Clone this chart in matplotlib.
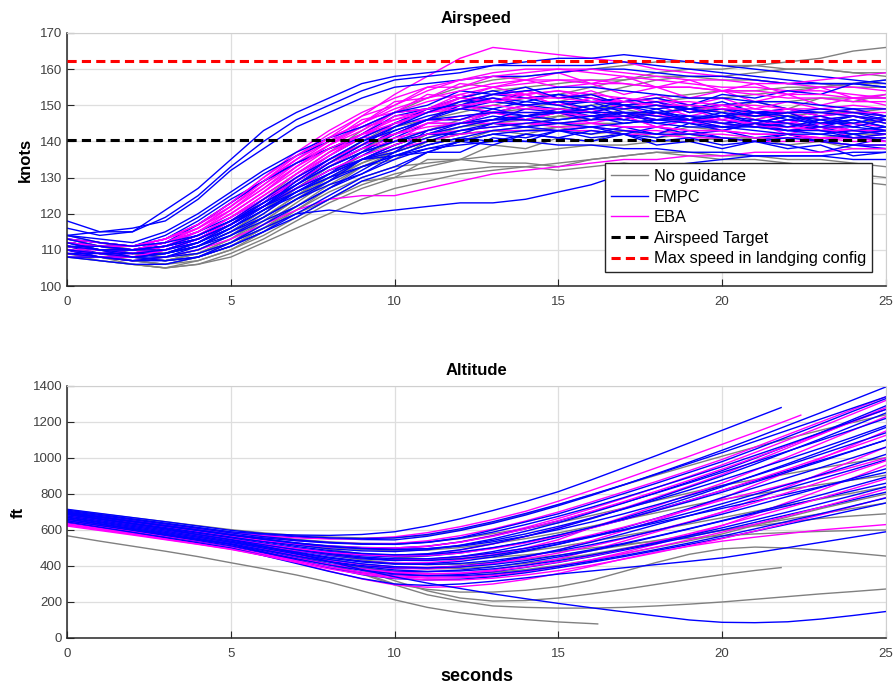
"""
Monte Carlo approach runs: airspeed and altitude vs time,
no guidance vs FMPC vs EBA guidance.
"""

import matplotlib
matplotlib.use("Agg")
import matplotlib.pyplot as plt
import numpy as np

# ── Style (Octave-like) ──────────────────────────────────────────────────────

GREY_COL = "#808080"
FMPC_COL = "#0000ff"
EBA_COL = "#ff00ff"
AXIS_COL = "#262626"
GRID_COL = "#dedede"
RUN_LW = 1.0

plt.rcParams.update({
    "font.family": ["Liberation Sans", "DejaVu Sans"],
    "font.size": 9.5,
    "axes.edgecolor": AXIS_COL,
    "axes.linewidth": 1.1,
    "xtick.color": AXIS_COL,
    "ytick.color": AXIS_COL,
    "xtick.labelcolor": "#404040",
    "ytick.labelcolor": "#404040",
    "xtick.direction": "in",
    "ytick.direction": "in",
    "xtick.major.size": 5,
    "ytick.major.size": 5,
    "xtick.major.pad": 7,
    "grid.color": GRID_COL,
    "grid.linewidth": 0.9,
})

# ── Data: airspeed (knots), one sample per second, t = 0..25 s ──────────────

T_SEC = np.arange(26)

AIR_NOGUID = [
    [110, 108, 106, 105, 106, 109, 113, 118, 123, 127, 130, 131, 132, 133, 133, 132, 133, 134, 133, 132, 131, 130, 130, 129, 129, 128],
    [112, 110, 108, 107, 108, 111, 116, 121, 126, 130, 133, 134, 135, 134, 134, 133, 135, 136, 137, 136, 135, 135, 134, 133, 131, 130],
    [111, 109, 107, 106, 108, 112, 118, 124, 130, 135, 139, 142, 144, 145, 146, 147, 149, 150, 151, 152, 152, 153, 154, 155, 156, 157],
    [113, 111, 109, 108, 110, 114, 120, 127, 133, 138, 142, 146, 148, 150, 152, 153, 155, 157, 159, 160, 160, 161, 162, 163, 165, 166],
    [110, 109, 108, 107, 109, 113, 119, 125, 131, 136, 140, 143, 146, 148, 149, 151, 153, 155, 157, 158, 158, 159, 160, 160, 159, 159],
    [112, 110, 108, 107, 109, 113, 118, 124, 129, 135, 137, 142, 142, 145, 144, 147, 146, 149, 147, 150, 148, 151, 149, 152, 151, 153],
    [114, 112, 110, 109, 111, 115, 121, 127, 133, 137, 144, 146, 151, 151, 154, 152, 153, 150, 151, 148, 149, 146, 148, 145, 147, 145],
    [109, 108, 107, 106, 107, 110, 115, 121, 127, 133, 135, 140, 140, 143, 142, 144, 142, 143, 141, 142, 140, 141, 139, 140, 138, 138],
    [111, 110, 109, 108, 109, 112, 116, 120, 124, 129, 130, 135, 135, 139, 138, 141, 140, 143, 142, 144, 143, 145, 144, 146, 145, 146],
    [113, 111, 110, 109, 111, 115, 121, 128, 134, 140, 145, 149, 152, 154, 155, 156, 157, 157, 158, 158, 157, 157, 156, 156, 155, 155],
    [108, 107, 106, 105, 106, 108, 112, 116, 120, 124, 127, 129, 131, 132, 133, 134, 135, 136, 137, 137, 136, 136, 135, 135, 134, 133],
    [112, 111, 110, 109, 112, 117, 124, 131, 137, 143, 148, 152, 155, 157, 158, 159, 160, 161, 162, 162, 161, 161, 160, 160, 159, 158],
    [110, 108, 107, 106, 108, 111, 116, 122, 128, 133, 137, 140, 142, 143, 144, 145, 146, 147, 148, 149, 150, 151, 151, 152, 152, 152],
    [112, 110, 109, 108, 110, 114, 119, 125, 130, 134, 137, 140, 142, 143, 143, 144, 145, 145, 146, 146, 147, 147, 147, 148, 148, 149],
    [109, 107, 106, 105, 107, 110, 114, 119, 124, 128, 131, 133, 135, 136, 137, 138, 139, 139, 140, 140, 141, 141, 141, 141, 142, 142],
    [111, 109, 108, 107, 109, 112, 117, 123, 129, 134, 138, 141, 144, 146, 147, 149, 150, 151, 152, 153, 154, 154, 155, 155, 156, 156],
]

AIR_FMPC = [
    [116, 114, 115, 121, 127, 135, 143, 148, 152, 156, 158, 159, 160, 161, 161, 161, 161, 162, 161, 160, 159, 158, 157, 156, 156, 155],
    [118, 115, 115, 119, 125, 133, 140, 146, 150, 154, 157, 158, 159, 161, 162, 163, 163, 164, 163, 162, 161, 160, 159, 158, 157, 156],
    [114, 115, 116, 118, 124, 132, 138, 144, 148, 152, 155, 156, 157, 158, 158, 159, 160, 160, 159, 158, 158, 157, 156, 156, 156, 157],
    [110, 108, 107, 108, 109, 112, 116, 120, 121, 120, 121, 122, 123, 123, 124, 126, 128, 131, 133, 134, 135, 136, 136, 136, 137, 137],
    [111, 109, 110, 111, 113, 118, 123, 130, 136, 141, 145, 148, 151, 152, 151, 153, 152, 150, 151, 149, 150, 151, 149, 148, 149, 147],
    [112, 111, 110, 111, 114, 118, 123, 129, 134, 139, 142, 146, 149, 148, 150, 149, 147, 148, 146, 147, 145, 146, 144, 145, 145, 143],
    [110, 109, 109, 110, 112, 116, 121, 126, 131, 137, 140, 142, 145, 147, 146, 148, 147, 145, 146, 147, 145, 144, 146, 145, 143, 144],
    [113, 112, 111, 113, 118, 124, 129, 134, 138, 142, 147, 149, 150, 153, 152, 150, 151, 148, 148, 146, 146, 144, 145, 143, 141, 142],
    [111, 110, 110, 111, 113, 117, 122, 127, 132, 135, 139, 142, 142, 145, 144, 143, 144, 142, 141, 143, 141, 140, 142, 140, 139, 141],
    [109, 108, 108, 109, 112, 116, 121, 126, 130, 135, 136, 139, 141, 140, 142, 141, 140, 142, 139, 140, 138, 140, 139, 137, 139, 138],
    [112, 111, 111, 114, 119, 125, 131, 136, 140, 144, 148, 149, 152, 154, 152, 153, 151, 152, 150, 149, 151, 148, 149, 147, 148, 146],
    [111, 110, 109, 110, 113, 117, 122, 127, 132, 136, 141, 145, 145, 148, 147, 149, 148, 146, 148, 146, 147, 145, 147, 145, 146, 144],
    [110, 109, 108, 107, 108, 111, 115, 120, 125, 130, 133, 137, 140, 139, 142, 141, 143, 142, 144, 142, 143, 141, 142, 140, 142, 140],
    [113, 112, 111, 112, 115, 119, 124, 129, 134, 138, 143, 146, 150, 149, 151, 150, 148, 150, 148, 149, 147, 148, 146, 147, 145, 147],
    [108, 108, 108, 109, 111, 115, 119, 124, 128, 131, 136, 137, 140, 142, 141, 143, 141, 142, 140, 141, 139, 140, 138, 139, 136, 137],
    [112, 111, 110, 112, 117, 123, 129, 134, 138, 141, 145, 149, 150, 152, 150, 151, 149, 151, 152, 150, 153, 152, 154, 153, 156, 155],
    [111, 110, 110, 111, 114, 118, 123, 128, 133, 137, 142, 146, 146, 149, 147, 148, 146, 148, 145, 146, 144, 145, 143, 144, 142, 143],
    [110, 109, 108, 109, 111, 114, 119, 124, 129, 135, 137, 143, 145, 146, 149, 148, 150, 147, 149, 146, 148, 145, 147, 144, 146, 144],
    [114, 113, 112, 115, 120, 126, 132, 137, 141, 144, 148, 150, 154, 153, 155, 152, 153, 150, 151, 148, 149, 147, 148, 145, 147, 145],
    [109, 108, 107, 107, 108, 111, 115, 119, 124, 129, 132, 137, 137, 141, 140, 143, 142, 144, 142, 145, 143, 145, 144, 146, 144, 146],
    [112, 110, 109, 109, 111, 115, 120, 126, 131, 135, 139, 142, 144, 146, 147, 146, 147, 148, 148, 147, 147, 148, 147, 146, 147, 146],
    [110, 108, 107, 108, 111, 116, 122, 129, 135, 140, 144, 147, 149, 151, 150, 151, 151, 150, 149, 150, 149, 148, 148, 149, 148, 147],
    [113, 111, 110, 110, 112, 116, 121, 125, 129, 133, 136, 139, 141, 143, 144, 145, 144, 145, 146, 145, 144, 144, 143, 143, 142, 143],
    [111, 110, 108, 108, 110, 114, 118, 122, 127, 131, 135, 138, 140, 142, 143, 143, 144, 143, 142, 142, 141, 140, 141, 140, 139, 139],
    [109, 109, 108, 109, 112, 117, 123, 128, 133, 137, 140, 143, 145, 146, 146, 145, 146, 146, 145, 144, 144, 143, 142, 142, 143, 142],
    [112, 110, 110, 111, 113, 117, 122, 128, 134, 139, 144, 148, 151, 153, 154, 155, 155, 154, 153, 152, 152, 151, 151, 150, 149, 149],
    [110, 109, 109, 110, 113, 117, 122, 126, 130, 133, 136, 138, 139, 140, 140, 139, 139, 138, 138, 137, 137, 136, 136, 136, 135, 135],
    [111, 111, 110, 111, 114, 118, 124, 130, 135, 140, 143, 146, 147, 148, 148, 148, 149, 149, 150, 149, 148, 147, 148, 148, 147, 146],
    [114, 112, 111, 112, 114, 118, 122, 127, 131, 135, 138, 141, 143, 144, 145, 146, 147, 147, 146, 146, 147, 146, 145, 144, 144, 143],
    [108, 107, 106, 106, 108, 112, 117, 122, 127, 132, 137, 140, 143, 145, 147, 148, 148, 148, 147, 146, 145, 144, 143, 142, 141, 141],
]

AIR_EBA = [
    [112, 111, 111, 113, 117, 123, 129, 135, 141, 147, 153, 158, 163, 166, 165, 164, 163, 162, 160, 159, 158, 157, 156, 155, 155, 154],
    [111, 110, 110, 112, 116, 122, 129, 136, 142, 147, 150, 155, 155, 158, 157, 159, 156, 158, 155, 157, 154, 156, 153, 155, 152, 153],
    [110, 109, 109, 111, 115, 121, 128, 135, 141, 145, 151, 152, 156, 155, 157, 155, 156, 153, 155, 152, 154, 151, 153, 150, 152, 150],
    [112, 111, 110, 112, 116, 121, 127, 134, 140, 146, 148, 153, 152, 155, 153, 154, 152, 151, 152, 149, 150, 148, 149, 147, 149, 147],
    [111, 110, 110, 112, 115, 120, 126, 132, 138, 142, 148, 149, 153, 151, 153, 150, 152, 149, 150, 147, 149, 146, 148, 146, 147, 145],
    [110, 109, 108, 110, 113, 118, 124, 130, 136, 142, 144, 149, 149, 152, 150, 151, 148, 150, 147, 149, 146, 148, 145, 147, 144, 146],
    [109, 108, 108, 109, 112, 117, 123, 129, 135, 139, 145, 146, 150, 148, 150, 148, 149, 146, 148, 145, 147, 144, 146, 143, 145, 144],
    [111, 110, 109, 111, 114, 119, 125, 131, 136, 141, 142, 146, 146, 148, 146, 148, 145, 147, 144, 146, 143, 145, 142, 144, 141, 142],
    [112, 111, 111, 113, 117, 123, 130, 137, 143, 148, 152, 155, 157, 158, 159, 160, 160, 159, 158, 157, 157, 156, 156, 157, 158, 159],
    [110, 110, 109, 110, 113, 117, 122, 127, 131, 135, 138, 140, 142, 143, 143, 143, 143, 142, 142, 141, 141, 140, 140, 140, 139, 139],
    [108, 108, 107, 108, 110, 113, 117, 121, 124, 125, 125, 127, 129, 131, 132, 133, 134, 135, 135, 136, 136, 137, 137, 137, 138, 138],
    [113, 112, 111, 113, 117, 122, 128, 134, 139, 143, 148, 149, 152, 151, 153, 150, 152, 149, 151, 148, 150, 147, 149, 147, 148, 147],
    [111, 110, 109, 110, 113, 117, 122, 128, 133, 138, 140, 145, 145, 148, 146, 148, 146, 147, 144, 146, 144, 145, 143, 145, 143, 143],
    [110, 109, 109, 111, 114, 119, 125, 131, 137, 141, 147, 148, 152, 151, 154, 152, 154, 151, 153, 150, 152, 149, 151, 149, 150, 149],
    [112, 111, 110, 112, 115, 120, 126, 133, 139, 145, 150, 154, 157, 159, 160, 160, 159, 158, 157, 156, 155, 155, 154, 154, 153, 152],
    [109, 109, 108, 110, 113, 118, 124, 130, 135, 139, 142, 144, 145, 145, 145, 144, 144, 143, 143, 142, 142, 141, 141, 141, 140, 140],
    [111, 110, 110, 112, 115, 120, 126, 133, 139, 144, 148, 151, 153, 155, 156, 157, 157, 156, 155, 155, 154, 153, 152, 152, 151, 151],
    [110, 109, 109, 111, 114, 119, 125, 131, 137, 142, 146, 149, 151, 153, 153, 154, 153, 152, 151, 151, 150, 150, 149, 149, 148, 148],
    [112, 111, 110, 112, 116, 122, 129, 135, 140, 144, 146, 148, 149, 150, 149, 149, 148, 148, 147, 146, 146, 145, 145, 144, 143, 143],
    [109, 108, 108, 110, 113, 118, 124, 130, 135, 139, 142, 145, 147, 148, 148, 148, 147, 147, 146, 146, 145, 144, 144, 143, 143, 142],
    [111, 110, 109, 111, 114, 119, 124, 129, 134, 138, 141, 143, 145, 146, 146, 145, 145, 144, 144, 143, 143, 142, 142, 141, 141, 140],
    [113, 112, 111, 113, 117, 123, 130, 136, 141, 145, 149, 152, 154, 156, 157, 157, 156, 156, 155, 155, 154, 154, 153, 153, 152, 152],
    [110, 109, 108, 110, 113, 117, 122, 127, 132, 136, 139, 142, 143, 144, 145, 145, 145, 144, 144, 143, 143, 142, 142, 141, 141, 141],
    [112, 111, 111, 113, 116, 121, 127, 133, 138, 142, 145, 148, 150, 151, 152, 152, 151, 151, 150, 150, 149, 149, 148, 148, 147, 146],
]

AIRSPEED_TARGET = 140.4
VMAX_LANDING = 162.2

# ── Data: altitude (ft); runs that stop early carry their own end time ──────

ALT_NOGUID = [
    ([568, 538, 510, 482, 452, 418, 385, 350, 310, 262, 212, 170, 140, 118, 102, 89, 80, 78], 16.2),
    ([690, 664, 638, 612, 584, 555, 520, 480, 432, 378, 318, 262, 222, 205, 208, 222, 245, 270, 298, 326, 352, 375, 391], 21.8),
    ([680, 654, 628, 600, 570, 538, 500, 458, 410, 355, 295, 240, 205, 178, 170, 166, 166, 170, 178, 188, 200, 215, 230, 245, 258, 272], 25),
    ([675, 649, 622, 594, 564, 532, 496, 456, 410, 362, 300, 270, 255, 255, 265, 285, 320, 370, 420, 465, 495, 505, 500, 488, 472, 455], 25),
    ([700, 676, 652, 628, 602, 576, 548, 520, 492, 468, 450, 440, 440, 448, 462, 480, 500, 520, 538, 554, 568, 578, 586, 592, 597, 600], 25),
    ([712, 690, 668, 646, 624, 602, 584, 570, 561, 556, 556, 570, 600, 640, 688, 740, 795, 850, 905, 958, 1010, 1060, 1108, 1154, 1198, 1240], 25),
    ([705, 682, 659, 636, 612, 588, 566, 548, 534, 526, 524, 532, 552, 580, 608, 640, 680, 722, 764, 806, 848, 880, 912, 944, 974, 1002], 25),
    ([695, 671, 647, 622, 596, 570, 545, 522, 503, 490, 484, 488, 502, 524, 552, 584, 620, 658, 696, 734, 770, 798, 826, 852, 878, 904], 25),
    ([685, 660, 635, 609, 582, 554, 524, 494, 468, 448, 436, 434, 442, 458, 480, 506, 536, 568, 600, 634, 668, 704, 738, 772, 806, 840], 25),
    ([670, 645, 619, 592, 564, 535, 502, 468, 436, 410, 392, 384, 386, 396, 414, 438, 466, 498, 530, 564, 598, 630, 660, 690, 720, 750], 25),
    ([690, 664, 638, 612, 584, 556, 525, 492, 460, 434, 416, 408, 410, 420, 438, 460, 486, 514, 542, 570, 598, 622, 644, 664, 678, 690], 25),
    ([660, 636, 612, 586, 558, 528, 494, 458, 422, 392, 370, 358, 356, 364, 380, 404, 434, 468, 504, 540, 578, 626, 672, 718, 760, 800], 25),
]

ALT_FMPC = [
    ([700, 677, 654, 631, 608, 585, 572, 561, 553, 547, 545, 565, 597, 637, 683, 735, 791, 851, 913, 977, 1043, 1111, 1181, 1251, 1323, 1395], 25),
    ([710, 686, 662, 638, 614, 590, 578, 572, 570, 575, 590, 622, 662, 708, 758, 813, 878, 946, 1014, 1084, 1154, 1224, 1280], 21.8),
    ([690, 667, 644, 621, 598, 575, 556, 540, 528, 521, 520, 532, 557, 600, 645, 690, 745, 802, 860, 920, 980, 1048, 1118, 1188, 1260, 1330], 25),
    ([680, 656, 632, 608, 584, 560, 538, 515, 496, 484, 480, 490, 515, 550, 593, 640, 695, 750, 808, 868, 930, 998, 1068, 1140, 1215, 1290], 25),
    ([670, 646, 622, 598, 574, 550, 525, 500, 480, 466, 460, 468, 490, 523, 565, 610, 662, 718, 776, 838, 900, 966, 1036, 1106, 1178, 1250], 25),
    ([695, 670, 645, 620, 595, 570, 548, 528, 512, 503, 500, 510, 533, 567, 607, 650, 700, 752, 806, 862, 920, 978, 1038, 1098, 1158, 1220], 25),
    ([660, 636, 612, 588, 564, 540, 512, 484, 458, 440, 430, 435, 452, 480, 517, 560, 612, 666, 722, 780, 840, 904, 968, 1034, 1102, 1170], 25),
    ([675, 650, 625, 600, 575, 550, 524, 498, 475, 458, 450, 455, 472, 500, 533, 570, 612, 657, 712, 765, 820, 874, 930, 986, 1042, 1100], 25),
    ([665, 639, 613, 587, 561, 535, 505, 474, 444, 422, 410, 412, 425, 450, 482, 520, 564, 612, 665, 720, 780, 835, 890, 946, 1002, 1060], 25),
    ([655, 629, 603, 577, 551, 525, 492, 458, 426, 402, 390, 390, 400, 420, 452, 490, 532, 580, 630, 680, 730, 780, 832, 884, 936, 990], 25),
    ([685, 659, 633, 607, 581, 555, 526, 497, 470, 450, 440, 440, 452, 472, 498, 530, 565, 600, 640, 680, 720, 760, 800, 840, 880, 920], 25),
    ([650, 624, 598, 572, 546, 520, 484, 447, 412, 385, 370, 368, 377, 395, 420, 450, 484, 522, 564, 606, 650, 692, 734, 776, 818, 860], 25),
    ([640, 614, 588, 562, 536, 510, 472, 432, 395, 366, 350, 346, 352, 368, 392, 420, 452, 488, 524, 562, 600, 642, 684, 726, 768, 810], 25),
    ([660, 632, 604, 576, 548, 520, 478, 434, 390, 352, 330, 322, 326, 340, 362, 390, 420, 452, 486, 520, 555, 593, 632, 670, 710, 750], 25),
    ([645, 616, 587, 558, 529, 500, 458, 414, 370, 330, 300, 292, 300, 315, 334, 355, 372, 390, 408, 426, 445, 473, 502, 531, 560, 590], 25),
    ([690, 662, 634, 606, 575, 545, 510, 470, 425, 380, 340, 305, 275, 245, 218, 192, 168, 145, 122, 100, 87, 85, 90, 105, 125, 147], 25),
    ([715, 692, 669, 646, 622, 598, 580, 566, 556, 552, 556, 575, 606, 646, 692, 742, 796, 852, 910, 970, 1030, 1092, 1154, 1216, 1278, 1340], 25),
    ([705, 681, 657, 633, 609, 584, 563, 545, 531, 523, 521, 531, 554, 588, 630, 676, 726, 780, 836, 893, 952, 1014, 1076, 1140, 1206, 1270], 25),
    ([698, 673, 648, 623, 598, 572, 548, 526, 508, 496, 490, 496, 514, 542, 578, 620, 666, 716, 768, 822, 878, 936, 994, 1054, 1116, 1180], 25),
    ([688, 663, 638, 613, 587, 561, 534, 508, 486, 470, 462, 464, 478, 502, 534, 572, 614, 660, 708, 758, 810, 866, 922, 980, 1040, 1100], 25),
    ([678, 652, 626, 600, 574, 547, 518, 490, 464, 444, 432, 430, 440, 460, 488, 522, 560, 602, 648, 696, 746, 798, 852, 906, 962, 1020], 25),
    ([672, 646, 620, 593, 566, 538, 508, 477, 449, 427, 413, 408, 414, 430, 454, 484, 518, 556, 598, 642, 688, 736, 786, 836, 888, 940], 25),
    ([668, 641, 614, 587, 560, 531, 499, 466, 436, 412, 396, 390, 394, 408, 430, 458, 490, 526, 566, 608, 652, 698, 746, 794, 844, 894], 25),
    ([662, 635, 608, 581, 553, 524, 490, 455, 422, 396, 378, 370, 372, 384, 404, 430, 460, 494, 530, 570, 612, 656, 700, 746, 792, 840], 25),
    ([652, 625, 598, 570, 542, 512, 476, 440, 405, 376, 356, 346, 346, 356, 374, 398, 426, 458, 492, 528, 566, 606, 648, 690, 734, 778], 25),
    ([700, 675, 650, 625, 600, 574, 550, 528, 510, 498, 492, 496, 510, 534, 565, 602, 644, 690, 740, 792, 846, 902, 960, 1020, 1080, 1140], 25),
]

ALT_EBA = [
    ([690, 667, 644, 621, 598, 575, 556, 541, 530, 524, 525, 540, 568, 605, 650, 700, 755, 812, 870, 930, 992, 1060, 1130, 1200, 1270, 1340], 25),
    ([700, 677, 654, 631, 608, 585, 568, 556, 550, 552, 562, 585, 618, 658, 704, 760, 820, 882, 946, 1010, 1076, 1142, 1210, 1238], 22.4),
    ([680, 656, 632, 608, 584, 560, 538, 520, 506, 498, 496, 508, 534, 570, 614, 664, 718, 776, 836, 898, 962, 1030, 1100, 1172, 1246, 1320], 25),
    ([670, 645, 620, 595, 570, 545, 518, 494, 474, 462, 458, 466, 488, 522, 564, 612, 666, 722, 782, 844, 908, 982, 1056, 1130, 1205, 1280], 25),
    ([660, 634, 608, 582, 556, 530, 500, 470, 444, 426, 416, 418, 434, 462, 500, 546, 612, 672, 734, 796, 860, 932, 1006, 1080, 1155, 1230], 25),
    ([650, 624, 598, 572, 546, 520, 488, 455, 424, 400, 386, 384, 394, 416, 448, 488, 540, 596, 654, 714, 776, 850, 922, 996, 1072, 1150], 25),
    ([640, 614, 588, 562, 536, 510, 476, 440, 406, 378, 360, 354, 360, 378, 405, 440, 487, 538, 590, 645, 700, 770, 840, 912, 986, 1060], 25),
    ([630, 604, 578, 552, 526, 500, 464, 426, 390, 360, 340, 332, 334, 346, 368, 398, 434, 476, 522, 572, 624, 688, 754, 820, 890, 960], 25),
    ([622, 597, 572, 546, 520, 492, 458, 418, 372, 328, 295, 282, 285, 300, 325, 358, 398, 440, 478, 510, 538, 560, 580, 600, 615, 630], 25),
    ([665, 640, 615, 590, 565, 540, 512, 486, 462, 445, 436, 438, 450, 470, 498, 532, 572, 616, 664, 714, 766, 810, 856, 902, 950, 1000], 25),
    ([685, 661, 637, 613, 589, 564, 542, 524, 510, 502, 500, 510, 532, 565, 606, 652, 703, 758, 816, 876, 938, 1002, 1068, 1134, 1202, 1270], 25),
    ([675, 650, 625, 600, 575, 549, 522, 497, 476, 462, 455, 458, 472, 496, 528, 566, 610, 658, 710, 764, 820, 878, 938, 1000, 1062, 1126], 25),
    ([658, 632, 606, 580, 553, 525, 494, 462, 432, 410, 396, 392, 398, 414, 440, 472, 510, 552, 598, 646, 698, 752, 808, 866, 924, 984], 25),
    ([645, 619, 593, 566, 539, 511, 478, 443, 410, 384, 366, 358, 360, 372, 394, 422, 456, 494, 536, 580, 626, 674, 724, 776, 830, 884], 25),
    ([635, 609, 583, 556, 529, 501, 466, 429, 394, 366, 346, 338, 340, 352, 372, 400, 432, 468, 506, 546, 588, 632, 678, 726, 776, 828], 25),
    ([628, 602, 576, 549, 522, 494, 458, 420, 384, 354, 332, 322, 322, 332, 350, 374, 404, 438, 474, 512, 552, 594, 638, 684, 732, 780], 25),
]


def _run_times(values, t_end):
    """Sample times for one run: whole seconds, last sample at t_end."""
    t = T_SEC[:len(values)].astype(float)
    t[-1] = t_end
    return t


def _plot_mixed(ax, fmpc_runs, eba_runs, with_times=False):
    # EBA and FMPC runs interleaved, FMPC drawn second in each pair
    for i in range(max(len(fmpc_runs), len(eba_runs))):
        for runs, col in ((eba_runs, EBA_COL), (fmpc_runs, FMPC_COL)):
            if i >= len(runs):
                continue
            if with_times:
                vals, t_end = runs[i]
                ax.plot(_run_times(vals, t_end), vals, color=col, lw=RUN_LW)
            else:
                ax.plot(T_SEC, runs[i], color=col, lw=RUN_LW)


fig = plt.figure(figsize=(8.96, 6.9), dpi=100)
ax_air = fig.add_axes([0.0748, 0.5855, 0.9140, 0.3667])
ax_alt = fig.add_axes([0.0748, 0.0754, 0.9140, 0.3652])

# ── Airspeed ─────────────────────────────────────────────────────────────────

for run in AIR_NOGUID:
    ax_air.plot(T_SEC, run, color=GREY_COL, lw=RUN_LW)
_plot_mixed(ax_air, AIR_FMPC, AIR_EBA)

dash = (0, (3, 1.7))
ax_air.axhline(AIRSPEED_TARGET, color="black", lw=2.2, ls=dash, zorder=5)
ax_air.axhline(VMAX_LANDING, color="#ff0000", lw=2.2, ls=dash, zorder=5)

leg_handles = [
    plt.Line2D([], [], color=GREY_COL, lw=RUN_LW),
    plt.Line2D([], [], color=FMPC_COL, lw=RUN_LW),
    plt.Line2D([], [], color=EBA_COL, lw=RUN_LW),
    plt.Line2D([], [], color="black", lw=2.2, ls=dash),
    plt.Line2D([], [], color="#ff0000", lw=2.2, ls=dash),
]
leg_labels = ["No guidance", "FMPC", "EBA", "Airspeed Target",
              "Max speed in landging config"]
leg = ax_air.legend(leg_handles, leg_labels, loc="lower right", fontsize=11.8,
                    fancybox=False, framealpha=1, edgecolor=AXIS_COL,
                    handlelength=2.3, labelspacing=0.34, borderaxespad=0.85,
                    borderpad=0.35, handletextpad=0.35)
leg.get_frame().set_linewidth(1.0)
leg.set_zorder(10)

ax_air.set_xlim(0, 25)
ax_air.set_ylim(100, 170)
ax_air.set_yticks(np.arange(100, 171, 10))
ax_air.set_title("Airspeed", fontsize=12, fontweight="bold", pad=7)
ax_air.set_ylabel("knots", fontsize=12, fontweight="bold", labelpad=5)

# ── Altitude ─────────────────────────────────────────────────────────────────

for run, t_end in ALT_NOGUID:
    ax_alt.plot(_run_times(run, t_end), run, color=GREY_COL, lw=RUN_LW)
_plot_mixed(ax_alt, ALT_FMPC, ALT_EBA, with_times=True)

ax_alt.set_xlim(0, 25)
ax_alt.set_ylim(0, 1400)
ax_alt.set_yticks(np.arange(0, 1401, 200))
ax_alt.set_title("Altitude", fontsize=12, fontweight="bold", pad=8)
ax_alt.set_ylabel("ft", fontsize=12, fontweight="bold", labelpad=5)
ax_alt.set_xlabel("seconds", fontsize=13, fontweight="bold", labelpad=6)

for ax in (ax_air, ax_alt):
    ax.set_xticks(np.arange(0, 26, 5))
    ax.grid(True)
    ax.set_axisbelow(True)
    ax.tick_params(top=False, right=False)
    for side in ("top", "right"):
        ax.spines[side].set_color("#cfcfcf")
        ax.spines[side].set_linewidth(0.8)

fig.savefig("out.png", dpi=100, facecolor="white")
plt.close(fig)
